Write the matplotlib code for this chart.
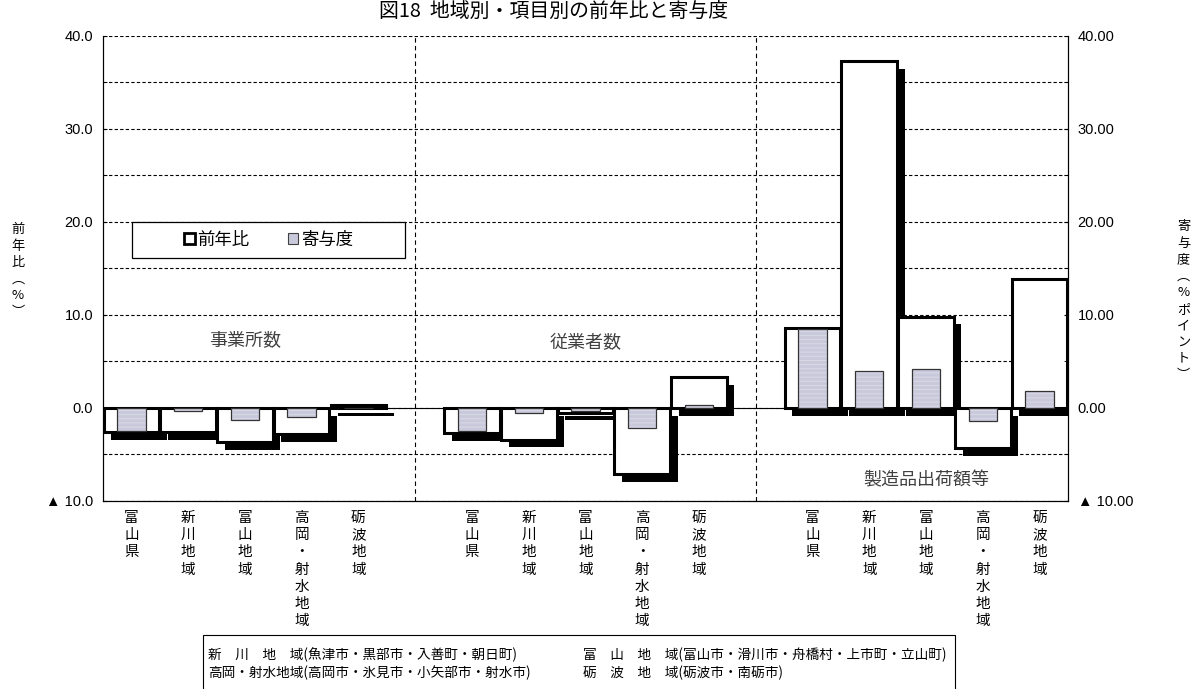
import matplotlib
matplotlib.use('Agg')
import matplotlib.pyplot as plt
import matplotlib.patheffects as pe
from matplotlib.patches import Patch, Rectangle
from matplotlib.ticker import MultipleLocator

plt.rcParams['font.family'] = ['Liberation Sans', 'Noto Sans CJK JP', 'DejaVu Sans']
plt.rcParams['hatch.linewidth'] = 0.6

regions = ['富山県', '新川地域', '富山地域', '高岡・射水地域', '砺波地域']
groups = ['事業所数', '従業者数', '製造品出荷額等']
# 前年比 (%)
yoy = [[-2.6, -2.6, -3.7, -2.8, 0.3],
       [-2.7, -3.4, -0.5, -7.1, 3.3],
       [8.6, 37.3, 9.8, -4.3, 13.9]]
# 寄与度 (%ポイント)
contrib = [[-2.5, -0.3, -1.3, -1.0, 0.05],
           [-2.5, -0.5, -0.3, -2.1, 0.3],
           [8.5, 4.0, 4.2, -1.4, 1.8]]
group_label_y = [7.3, 7.0, -7.8]

fig = plt.figure(figsize=(11.99, 6.89), dpi=100)
ax = fig.add_axes([0.0859, 0.2729, 0.8048, 0.6749])
ax2 = ax.twinx()

shadow = [pe.SimplePatchShadow(offset=(5.5, -5.5), shadow_rgbFace='black', alpha=1.0), pe.Normal()]

xpos, xlabels = [], []
for g in range(3):
    for i in range(5):
        x = g * 6 + i
        xpos.append(x)
        xlabels.append('\n'.join(regions[i]))
        b = ax.bar(x, yoy[g][i], width=0.98, color='white', edgecolor='black', linewidth=2.2, zorder=3)
        b[0].set_path_effects(shadow)
        ax2.bar(x, contrib[g][i], width=0.5, color='#c9c9dc', edgecolor='#dcdce8', linewidth=0, hatch='----', zorder=3)
        ax2.bar(x, contrib[g][i], width=0.5, fill=False, edgecolor='#333333', linewidth=0.9, zorder=4)
    ax.text(g * 6 + 2, group_label_y[g], groups[g], ha='center', va='center', fontsize=13, color='#404040',
            family=['Noto Sans CJK JP'])

for a in (ax, ax2):
    a.set_ylim(-10, 40)
    a.set_xlim(-0.5, 16.5)
    a.yaxis.set_minor_locator(MultipleLocator(5))
    a.spines['top'].set_visible(False)
    a.tick_params(axis='y', which='both', direction='in', length=3, labelsize=10.5, pad=7)
    a.tick_params(axis='x', length=0)

ax.set_yticks([-10, 0, 10, 20, 30, 40], ['▲ 10.0', '0.0', '10.0', '20.0', '30.0', '40.0'])
ax2.set_yticks([-10, 0, 10, 20, 30, 40], ['▲ 10.00', '0.00', '10.00', '20.00', '30.00', '40.00'])

ax.set_xticks(xpos, xlabels, fontsize=10.5, linespacing=1.3, va='top', family=['Noto Sans CJK JP'])
ax.tick_params(axis='x', pad=7)

ax.set_axisbelow(True)
ax.yaxis.grid(True, which='both', linestyle=(0, (3, 2)), color='black', linewidth=0.8, zorder=0)
ax.axhline(0, color='black', linewidth=0.8, zorder=1)
for xv in (5, 11):
    ax.axvline(xv, color='black', linestyle=(0, (4, 3)), linewidth=0.8, zorder=1)

# legend box
ax2.add_patch(Rectangle((0.03, 0.6 - 36 / 465), 0.283, 36 / 465, transform=ax2.transAxes,
                        facecolor='white', edgecolor='black', linewidth=0.9, zorder=9))
handles = [Patch(facecolor='white', edgecolor='black', linewidth=2),
           Patch(facecolor='#c9c9dc', edgecolor='#404040', linewidth=0.8)]
leg = ax2.legend(handles, ['前年比', '寄与度'], ncol=2, loc='center',
                 bbox_to_anchor=(0.03 + 0.283 / 2, 0.6 - 18 / 465),
                 handlelength=0.6, handleheight=0.6, handletextpad=0.15, columnspacing=2.2,
                 frameon=False, borderpad=0.2, prop={'family': ['Noto Sans CJK JP'], 'size': 12.5})
leg.set_zorder(10)

fig.text(0.462, 0.982, '図18  地域別・項目別の前年比と寄与度', ha='center', va='center', fontsize=14.3,
         family=['Noto Sans CJK JP', 'DejaVu Sans'])
fig.text(0.015, 0.607, '\n'.join('前年比︵%︶'), ha='center', va='center', fontsize=9.5, linespacing=1.35,
         family=['Noto Sans CJK JP', 'DejaVu Sans'])
fig.text(0.987, 0.563, '\n'.join('寄与度︵%ポイント︶'), ha='center', va='center', fontsize=9.5, linespacing=1.35,
         family=['Noto Sans CJK JP', 'DejaVu Sans'])

fig.add_artist(Rectangle((0.1693, -0.01), 0.6272, 0.0884, transform=fig.transFigure,
                         fill=False, edgecolor='black', linewidth=0.8))
notes = [(0.1735, 0.0494, '新\u3000川\u3000地\u3000域(魚津市・黒部市・入善町・朝日町)'),
         (0.4863, 0.0494, '富\u3000山\u3000地\u3000域(富山市・滑川市・舟橋村・上市町・立山町)'),
         (0.1735, 0.0232, '高岡・射水地域(高岡市・氷見市・小矢部市・射水市)'),
         (0.4863, 0.0232, '砺\u3000波\u3000地\u3000域(砺波市・南砺市)')]
for nx, ny, t in notes:
    fig.text(nx, ny, t, ha='left', va='center', fontsize=9.8, family=['Noto Sans CJK JP', 'DejaVu Sans'])

fig.savefig('out.png', dpi=100)
